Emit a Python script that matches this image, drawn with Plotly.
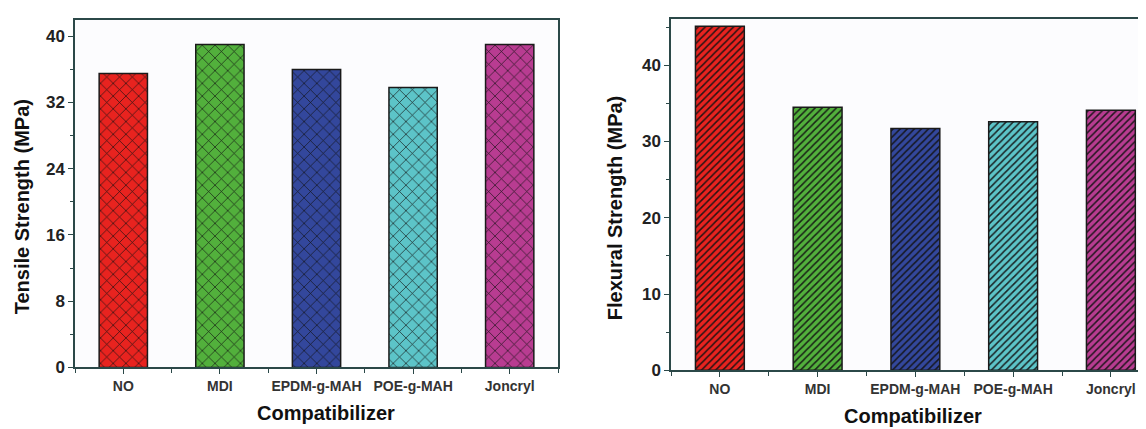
import plotly.graph_objects as go

categories = ["NO", "MDI", "EPDM-g-MAH", "POE-g-MAH", "Joncryl"]
tensile_strength = [35.5, 39.0, 36.0, 33.8, 39.0]
flexural_strength = [45.1, 34.5, 31.7, 32.6, 34.1]
bar_colors = ["#e8231f", "#52b03c", "#33479c", "#5cc4c8", "#b83c91"]
tensile_ticks = [0, 8, 16, 24, 32, 40]
flexural_ticks = [0, 10, 20, 30, 40]

W, H = 1146, 429
OFFX = 8  # horizontal page offset compensation
xpos = list(range(len(categories)))
line_col = "#2b4848"
font_fam = "Liberation Sans, Arial, sans-serif"

fig = go.Figure()
for i, (cat, col) in enumerate(zip(categories, bar_colors)):
    fig.add_trace(go.Bar(
        x=[xpos[i]], y=[tensile_strength[i]], width=0.5, xaxis="x", yaxis="y", name=cat,
        marker=dict(color=col, line=dict(color="#1a1a1a", width=1.5),
                    pattern=dict(shape="x", fgcolor="#111111", bgcolor=col, fgopacity=0.9,
                                 fillmode="overlay", size=9, solidity=0.15)),
        showlegend=False))
    fig.add_trace(go.Bar(
        x=[xpos[i]], y=[flexural_strength[i]], width=0.5, xaxis="x2", yaxis="y2", name=cat,
        marker=dict(color=col, line=dict(color="#1a1a1a", width=1.5),
                    pattern=dict(shape="/", fgcolor="#111111", bgcolor=col, fgopacity=0.9,
                                 fillmode="overlay", size=5, solidity=0.3)),
        showlegend=False))

def px(v):
    return (v - OFFX) / W

def py(v):
    return (H - v) / H

tickfont_x = dict(family=font_fam, size=14, color="#333333")
tickfont_y = dict(family=font_fam, size=17, color="#222222")

common_x = dict(tickmode="array", tickvals=xpos, ticktext=[f"<b>{c}</b>" for c in categories],
                showline=True, linecolor=line_col, linewidth=1.5, mirror=True,
                ticks="outside", ticklen=5, tickwidth=1.2, tickcolor=line_col,
                minor=dict(tickmode="linear", tick0=0.5, dtick=1, ticks="outside", ticklen=4,
                           tickwidth=1.2, tickcolor=line_col),
                tickfont=tickfont_x, showgrid=False, zeroline=False)

right_span = W - (671 - OFFX)
right_end = -0.5 + right_span / 97.75

fig.update_layout(
    width=W, height=H, margin=dict(l=0, r=0, t=0, b=0),
    paper_bgcolor="white", plot_bgcolor="#fcfcfe", barmode="overlay",
    xaxis=dict(domain=[px(75), px(558)], range=[-0.5, 4.5], anchor="y", **common_x),
    yaxis=dict(domain=[py(368), py(12)], range=[0, 42], anchor="x",
               tickmode="array", tickvals=tensile_ticks,
               ticktext=[f"<b>{t}</b>" for t in tensile_ticks],
               showline=True, linecolor=line_col, linewidth=1.5, mirror=True,
               ticks="outside", ticklen=5, tickwidth=1.2, tickcolor=line_col,
               minor=dict(tickmode="linear", tick0=0, dtick=4, ticks="outside", ticklen=3,
                          tickwidth=1.2, tickcolor=line_col),
               tickfont=tickfont_y, showgrid=False, zeroline=False),
    xaxis2=dict(domain=[px(671), 1.0], range=[-0.5, right_end], anchor="y2", **common_x),
    yaxis2=dict(domain=[py(371), py(11)], range=[0, 46.1], anchor="x2",
                tickmode="array", tickvals=flexural_ticks,
                ticktext=[f"<b>{t}</b>" for t in flexural_ticks],
                showline=True, linecolor=line_col, linewidth=1.5, mirror=False,
                ticks="outside", ticklen=5, tickwidth=1.2, tickcolor=line_col,
                minor=dict(tickmode="linear", tick0=0, dtick=5, ticks="outside", ticklen=3,
                           tickwidth=1.2, tickcolor=line_col),
                tickfont=tickfont_y, showgrid=False, zeroline=False),
)

title_font = dict(family=font_fam, size=20, color="#111111")
ann = [
    dict(text="<b>Tensile Strength (MPa)</b>", x=px(22), y=py(204), textangle=-90),
    dict(text="<b>Flexural Strength (MPa)</b>", x=px(615), y=py(205), textangle=-90),
    dict(text="<b>Compatibilizer</b>", x=px(326), y=py(415)),
    dict(text="<b>Compatibilizer</b>", x=px(913), y=py(418)),
]
for a in ann:
    fig.add_annotation(xref="paper", yref="paper", showarrow=False, font=title_font,
                       xanchor="center", yanchor="middle", **a)

fig.write_html("out.html")
